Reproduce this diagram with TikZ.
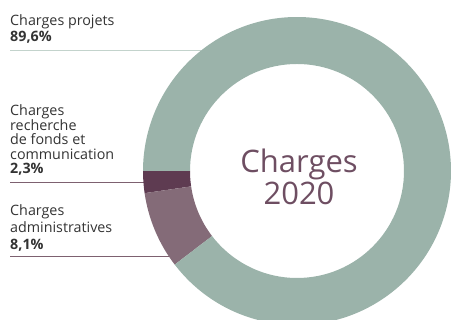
\documentclass[tikz,border=0pt]{standalone}
\usepackage{fontspec}
\setmainfont{Open Sans}
\usepackage{xcolor}
\usepackage{tikz}
\usetikzlibrary{positioning,calc}

\definecolor{ringgreen}{HTML}{9BB3AA}
\definecolor{fundsdark}{HTML}{5E3B51}
\definecolor{adminmauve}{HTML}{846B78}
\definecolor{titlemauve}{HTML}{6E4E62}
\definecolor{textgrey}{HTML}{333333}
\definecolor{linegreen}{HTML}{C3D3CC}
\definecolor{linemauve}{HTML}{7D6170}

\begin{document}
\begin{tikzpicture}[x=1pt, y=1pt,
    lbl/.style={anchor=base west, align=left, inner sep=0pt, text=textgrey},
    leader/.style={line width=1pt}]
  \useasboundingbox (0,0) rectangle (451,320);

  % Ring centre and radii
  \coordinate (c) at (297,149);
  \def\outR{154}
  \def\inR{107}

  % Leader lines (drawn under the ring)
  \coordinate (proj-l) at (10,269);
  \coordinate (proj-r) at (201,269);
  \coordinate (rech-l) at (10,137);
  \coordinate (rech-r) at (144,137);
  \coordinate (admin-l) at (10,63);
  \coordinate (admin-r) at (170,63);
  \draw[leader, linegreen] (proj-l) -- (proj-r);
  \draw[leader, linemauve] (rech-l) -- (rech-r);
  \draw[leader, linemauve] (admin-l) -- (admin-r);

  % Ring segments
  \begin{scope}[shift={(c)}]
    \fill[fundsdark] (180:\outR) arc (180:188.28:\outR) -- (188.28:\inR) arc (188.28:180:\inR) -- cycle;
    \fill[adminmauve] (188.28:\outR) arc (188.28:217.44:\outR) -- (217.44:\inR) arc (217.44:188.28:\inR) -- cycle;
    \fill[ringgreen] (217.44:\outR) arc (217.44:540:\outR) -- (180:\inR) arc (180:-142.56:\inR) -- cycle;
  \end{scope}

  % Labels (base = last line)
  \node[lbl, font=\fontsize{14.3}{15.7}\selectfont] (proj) at (10,278.3)
    {Charges projets\\\textbf{89,6\%}};
  \node[lbl, font=\fontsize{14.3}{14.2}\selectfont] (rech) at (10,146.7)
    {Charges\\recherche\\de fonds et\\communication\\\textbf{2,3\%}};
  \node[lbl, font=\fontsize{14.3}{17}\selectfont] (admin) at (10,70.7)
    {Charges\\administratives\\\textbf{8,1\%}};

  % Title in the hole
  \node[anchor=base, align=center, inner sep=0pt, text=titlemauve,
    font=\fontsize{31}{32}\selectfont] (title) at (299,115) {Charges\\2020};
\end{tikzpicture}
\end{document}
